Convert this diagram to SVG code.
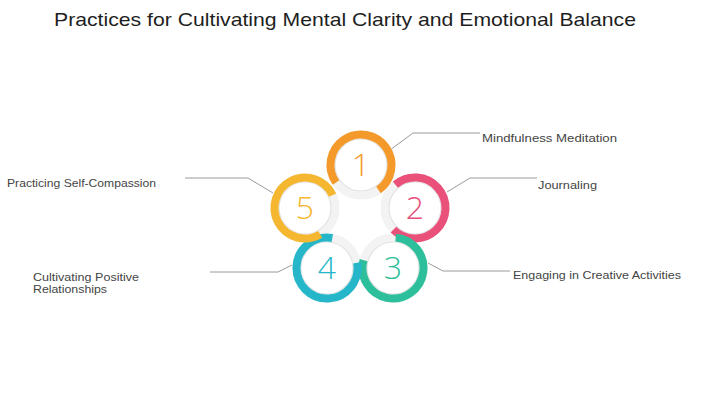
<svg xmlns="http://www.w3.org/2000/svg" width="720" height="403" viewBox="0 0 720 403">
  <style>
    .title { font-family: "Liberation Sans", Arial, sans-serif; font-size: 19px; fill: #1e1e1e; }
    .label { font-family: "Liberation Sans", Arial, sans-serif; font-size: 10.5px; fill: #444; }
    .num { font-family: "Open Sans", "Liberation Sans", sans-serif; font-weight: 300; font-size: 32px; text-anchor: middle; }
    .band { fill: none; stroke: #f3f3f3; stroke-width: 8; }
    .disc { fill: #ffffff; stroke: #e2e2e2; stroke-width: 1.2; }
    .arc { fill: none; stroke-width: 8; }
    .conn { fill: none; stroke: #9a9a9a; stroke-width: 1; }
  </style>
  <rect width="720" height="403" fill="#ffffff"/>
  <text class="title" x="54" y="26" textLength="582" lengthAdjust="spacingAndGlyphs">Practices for Cultivating Mental Clarity and Emotional Balance</text>

  <g id="connectors">
    <polyline class="conn" points="390,150 413,133 480,133"/>
    <polyline class="conn" points="447,192 470,178 537,178"/>
    <polyline class="conn" points="428,263 443,271 510,271"/>
    <polyline class="conn" points="210,272 278,272 292,265"/>
    <polyline class="conn" points="185,178 248,178 273,193"/>
  </g>

  <g id="bands">
    <circle class="band" cx="361" cy="165" r="30.5"/>
    <circle class="band" cx="415" cy="208" r="30.5"/>
    <circle class="band" cx="393" cy="268" r="30.5"/>
    <circle class="band" cx="327" cy="268" r="30.5"/>
    <circle class="band" cx="305" cy="208" r="30.5"/>
    <circle class="disc" cx="361" cy="165" r="26"/>
    <circle class="disc" cx="415" cy="208" r="26"/>
    <circle class="disc" cx="393" cy="268" r="26"/>
    <circle class="disc" cx="327" cy="268" r="26"/>
    <circle class="disc" cx="305" cy="208" r="26"/>
  </g>

  <g id="node1">
    <path class="arc" stroke="#F39A2B" d="M336.02 182.49 A30.5 30.5 0 1 1 378.49 189.98"/>
    <text class="num" x="361" y="176" fill="#F39A2B">1</text>
    <text class="label" x="482" y="141.5" textLength="135" lengthAdjust="spacingAndGlyphs">Mindfulness Meditation</text>
  </g>
  <g id="node2">
    <path class="arc" stroke="#E9507A" d="M395.39 184.64 A30.5 30.5 0 1 1 393.43 229.57"/>
    <text class="num" x="415" y="219" fill="#E9507A">2</text>
    <text class="label" x="538" y="188.5" textLength="59" lengthAdjust="spacingAndGlyphs">Journaling</text>
  </g>
  <g id="node3">
    <path class="arc" stroke="#2DBF9B" d="M395.66 237.62 A30.5 30.5 0 1 1 363.54 260.11"/>
    <text class="num" x="393" y="279" fill="#2DBF9B">3</text>
    <text class="label" x="513" y="278.5" textLength="168" lengthAdjust="spacingAndGlyphs">Engaging in Creative Activities</text>
  </g>
  <g id="node4">
    <path class="arc" stroke="#25B7C9" d="M357.04 262.70 A30.5 30.5 0 1 1 332.30 237.96"/>
    <text class="num" x="327" y="279" fill="#25B7C9">4</text>
    <text class="label" x="33" y="280.5" textLength="106" lengthAdjust="spacingAndGlyphs">Cultivating Positive</text>
    <text class="label" x="33" y="292.5" textLength="74" lengthAdjust="spacingAndGlyphs">Relationships</text>
  </g>
  <g id="node5">
    <path class="arc" stroke="#F5B730" d="M320.25 234.41 A30.5 30.5 0 1 1 332.64 195.11"/>
    <text class="num" x="305" y="219" fill="#F5B730">5</text>
    <text class="label" x="7" y="186.5" textLength="149" lengthAdjust="spacingAndGlyphs">Practicing Self-Compassion</text>
  </g>
</svg>
